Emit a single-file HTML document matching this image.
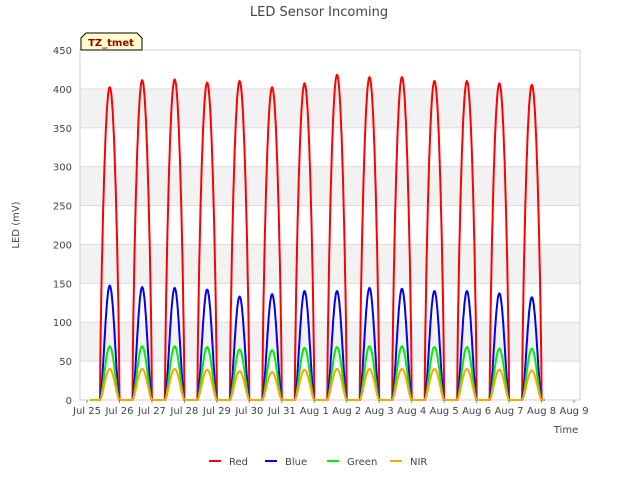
<!DOCTYPE html>
<html><head><meta charset="utf-8"><style>
body{margin:0;background:#fff;font-family:"Liberation Sans","DejaVu Sans",sans-serif}
</style></head><body>
<svg id="c" width="640" height="480" xmlns="http://www.w3.org/2000/svg" font-family="DejaVu Sans, Liberation Sans, sans-serif">
<text x="319" y="16" text-anchor="middle" font-size="13" fill="#444">LED Sensor Incoming</text>
<g id="grid"></g>
<g id="series"></g>
<g id="axes"></g>
<g>
<path d="M81,50 L81,38 L86,33 L137,33 L142,38 L142,50 Z" fill="#ffffcc" stroke="#000" stroke-width="1"/>
<text x="111" y="46" text-anchor="middle" font-size="10" font-weight="bold" fill="#990000">TZ_tmet</text>
</g>
<text x="19" y="225" text-anchor="middle" font-size="10" fill="#444" transform="rotate(-90 19 225)">LED (mV)</text>
<text x="566" y="433" text-anchor="middle" font-size="10" fill="#444">Time</text>
<g id="legend"></g>
</svg>
<script>
const dayLabels=["Jul 25","Jul 26","Jul 27","Jul 28","Jul 29","Jul 30","Jul 31","Aug 1","Aug 2","Aug 3","Aug 4","Aug 5","Aug 6","Aug 7","Aug 8","Aug 9"];
const yTicks=[0,50,100,150,200,250,300,350,400,450];
const redPeaks=[402,411,412,408,410,402,407,418,415,415,410,410,407,405];
const bluePeaks=[147,145,144,142,133,136,140,140,144,143,140,140,137,132];
const greenPeaks=[69,69,69,68,65,64,67,68,69,69,68,68,66,66];
const nirPeaks=[40,40,40,39,37,36,39,40,40,40,40,40,39,38];
const seriesNames=["Red","Blue","Green","NIR"];
const seriesColors=["#ff0000","#0000ff","#00ee00","#ffa500"];
const L=80,R=580,T=50,B=400,X0=87,DX=32.47;
const xs=d=>X0+d*DX, ys=v=>B-(v/450)*(B-T);
const NS="http://www.w3.org/2000/svg";
function mk(t,a,p){const e=document.createElementNS(NS,t);for(const k in a)e.setAttribute(k,a[k]);p.appendChild(e);return e;}
const grid=document.getElementById('grid');
for(let i=0;i<yTicks.length-1;i++){
  if(i%2===1){const r=mk('rect',{x:L,y:ys(yTicks[i+1]),width:R-L,height:ys(yTicks[i])-ys(yTicks[i+1]),fill:'#f2f2f2'},grid);
  
  }
}
yTicks.forEach(v=>{const l=mk('line',{x1:L,x2:R,y1:ys(v),y2:ys(v),stroke:'#dcdcdc','stroke-width':1},grid);

});
mk('rect',{x:L,y:T,width:R-L,height:B-T,fill:'none',stroke:'#d0d0d0'},grid);
const axes=document.getElementById('axes');
yTicks.forEach(v=>{const t=mk('text',{x:72,y:ys(v)+4,'text-anchor':'end','font-size':10,fill:'#444'},axes);t.textContent=v;

});
dayLabels.forEach((s,i)=>{const t=mk('text',{x:xs(i),y:414,'text-anchor':'middle','font-size':10,fill:'#444'},axes);t.textContent=s;


mk('line',{x1:xs(i),x2:xs(i),y1:B,y2:B+3,stroke:'#888'},axes);});
const allPeaks=[redPeaks,bluePeaks,greenPeaks,nirPeaks];
const pows=[0.7,1.6,1.6,1.6];
const sg=document.getElementById('series');
allPeaks.forEach((pk,si)=>{
  let d='';
  for(let day=0;day<pk.length;day++){
    for(let k=0;k<=100;k++){
      const f=k/100, t=day+f;
      let v=0;
      if(f>0.3&&f<0.9){v=pk[day]*Math.pow(Math.sin(Math.PI*(f-0.3)/0.6),pows[si]);}
      if(day===0&&k===0)d+='M'; else d+='L';
      d+=xs(t+0.1).toFixed(1)+','+ys(v).toFixed(1);
    }
  }
  const p=mk('path',{d:d,fill:'none',stroke:seriesColors[si],'stroke-width':2},sg);
  
  
});
const lg=document.getElementById('legend');
const lx=[209,265,327,390];
seriesNames.forEach((n,i)=>{
  const g=mk('g',{},lg);
  
  
  mk('line',{x1:lx[i],x2:lx[i]+12,y1:461,y2:461,stroke:seriesColors[i],'stroke-width':2},g);
  const t=mk('text',{x:lx[i]+20,y:465,'font-size':10,fill:'#444'},g);t.textContent=n;
});
</script>
</body></html>
